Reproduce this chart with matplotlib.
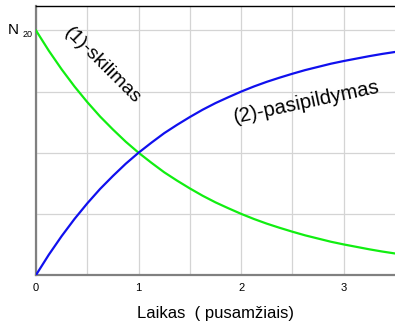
import matplotlib
matplotlib.use("Agg")
import matplotlib.pyplot as plt

plt.rcParams['font.family'] = ['Liberation Sans', 'DejaVu Sans']

# time in half-lives (fraction of N20)
laikas = [0, 0.125, 0.25, 0.375, 0.5, 0.625, 0.75, 0.875, 1.0, 1.125, 1.25, 1.375,
          1.5, 1.625, 1.75, 1.875, 2.0, 2.125, 2.25, 2.375, 2.5, 2.625, 2.75, 2.875,
          3.0, 3.125, 3.25, 3.375, 3.5]
skilimas = [1.000, 0.917, 0.841, 0.771, 0.707, 0.648, 0.595, 0.545, 0.500, 0.459,
            0.420, 0.386, 0.354, 0.324, 0.297, 0.273, 0.250, 0.229, 0.210, 0.193,
            0.177, 0.162, 0.149, 0.136, 0.125, 0.115, 0.105, 0.096, 0.088]
pasipildymas = [0.000, 0.083, 0.159, 0.229, 0.293, 0.352, 0.405, 0.455, 0.500, 0.541,
                0.580, 0.614, 0.646, 0.676, 0.703, 0.727, 0.750, 0.771, 0.790, 0.807,
                0.823, 0.838, 0.851, 0.864, 0.875, 0.885, 0.895, 0.904, 0.912]
xtick_labels = ['0', '1', '2', '3']

fig = plt.figure(figsize=(3.95, 3.21), dpi=100)
ax = fig.add_axes([36/395, 46/321, 1 - 36/395, 269/321])

ax.plot(laikas, skilimas, color='#11ee11', lw=1.6, zorder=3)
ax.plot(laikas, pasipildymas, color='#1010ee', lw=1.6, zorder=3)

ax.set_xlim(0, 3.5)
ax.set_ylim(0, 1.1)
ax.set_xticks([0, 1, 2, 3])
ax.set_xticklabels(xtick_labels, fontsize=8)
ax.set_xticks([0.5, 1.5, 2.5], minor=True)
ax.set_yticks([0.25, 0.5, 0.75, 1.0])
ax.set_yticklabels([])
ax.tick_params(which='both', length=0, pad=6)
ax.grid(True, which='both', color='#d4d4d4', lw=0.9)

for s in ['left', 'bottom']:
    ax.spines[s].set_color('#808080')
    ax.spines[s].set_linewidth(1.6)
ax.spines['top'].set_color('black')
ax.spines['top'].set_linewidth(1.0)
ax.spines['right'].set_visible(False)

ax.set_xlabel('Laikas  ( pusamžiais)', fontsize=12, labelpad=9)

# N20 label at the start level (offsets in points)
ax.annotate('N', xy=(0, 1.0), xycoords='data', xytext=(-20, 0), textcoords='offset points',
            fontsize=11, ha='left', va='center', annotation_clip=False)
ax.annotate('20', xy=(0, 1.0), xycoords='data', xytext=(-9.5, -3), textcoords='offset points',
            fontsize=6.5, ha='left', va='center', annotation_clip=False)

ax.text(0.65, 0.857, '(1)-skilimas', fontsize=14, rotation=-45,
        ha='center', va='center', rotation_mode='anchor')
ax.text(2.64, 0.705, '(2)-pasipildymas', fontsize=14.6, rotation=12,
        ha='center', va='center', rotation_mode='anchor')

fig.savefig('out.png', dpi=100)
